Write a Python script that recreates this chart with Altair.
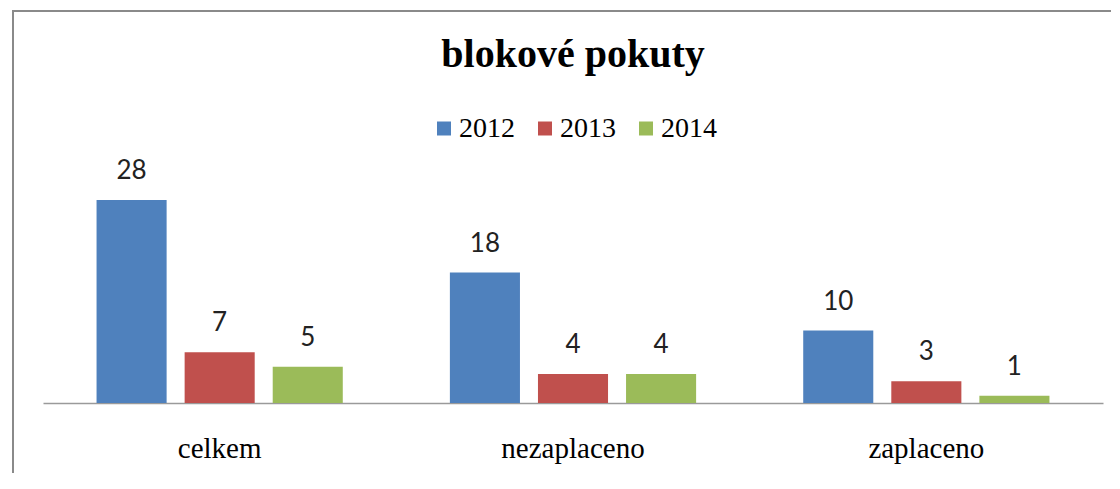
import altair as alt
import pandas as pd

categories = ["celkem", "nezaplaceno", "zaplaceno"]
years = ["2012", "2013", "2014"]
values_2012 = [28, 18, 10]
values_2013 = [7, 4, 3]
values_2014 = [5, 4, 1]
colors = ["#4F81BD", "#C0504D", "#9BBB59"]

rows = []
for i, c in enumerate(categories):
    for y, vals in zip(years, [values_2012, values_2013, values_2014]):
        rows.append({"kategorie": c, "rok": y, "pocet": vals[i]})
df = pd.DataFrame(rows)

SERIF = "Liberation Serif"

x_enc = alt.X(
    "kategorie:N",
    sort=categories,
    scale=alt.Scale(paddingInner=0, paddingOuter=0),
    axis=alt.Axis(
        title=None,
        ticks=False,
        labelAngle=0,
        labelFont=SERIF,
        labelFontSize=29,
        labelColor="#000000",
        labelBaseline="alphabetic",
        labelPadding=54,
        domainColor="#9a9a9a",
        domainWidth=1.5,
        grid=False,
    ),
)
xoff = alt.XOffset(
    "rok:N", sort=years, scale=alt.Scale(paddingInner=0.2045, paddingOuter=0.608)
)
y_enc = alt.Y("pocet:Q", scale=alt.Scale(domain=[0, 30], nice=False), axis=None)

bars = alt.Chart(df).mark_bar().encode(
    x=x_enc,
    xOffset=xoff,
    y=y_enc,
    color=alt.Color(
        "rok:N",
        sort=years,
        scale=alt.Scale(domain=years, range=colors),
        legend=alt.Legend(
            title=None,
            orient="none",
            direction="horizontal",
            legendX=387,
            legendY=-71,
            padding=0,
            symbolType="square",
            symbolSize=196,
            symbolStrokeWidth=0,
            symbolOpacity=1,
            labelFont=SERIF,
            labelFontSize=28,
            labelColor="#000000",
            labelOffset=1,
            columnPadding=16,
        ),
    ),
)

labels = alt.Chart(df).mark_text(
    font="Lato", fontSize=26, dy=-21, baseline="alphabetic", color="#222222"
).encode(x=x_enc, xOffset=xoff, y=y_enc, text="pocet:Q")

frame_df = pd.DataFrame({"a": [0]})
left_line = alt.Chart(frame_df).mark_rule(color="#8a8a8a", strokeWidth=2).encode(
    x=alt.value(-30), y=alt.value(-175.5), y2=alt.value(310)
)
top_line = alt.Chart(frame_df).mark_rule(color="#8a8a8a", strokeWidth=2).encode(
    x=alt.value(-31), x2=alt.value(1080), y=alt.value(-174.5)
)

chart = (
    alt.layer(left_line, top_line, bars, labels)
    .properties(
        width=1060,
        height=217.5,
        background="#ffffff",
        autosize=alt.AutoSizeParams(type="none"),
        padding={"left": 35, "top": 177.5, "right": 8, "bottom": 70},
        title=alt.TitleParams(
            "blokové pokuty",
            font=SERIF,
            fontSize=40,
            fontWeight="bold",
            color="#000000",
            anchor="middle",
            baseline="alphabetic",
            offset=-98,
        ),
    )
    .configure_view(strokeWidth=0, stroke="transparent")
)

chart.save("out.html", embed_options={"renderer": "svg", "actions": False})
